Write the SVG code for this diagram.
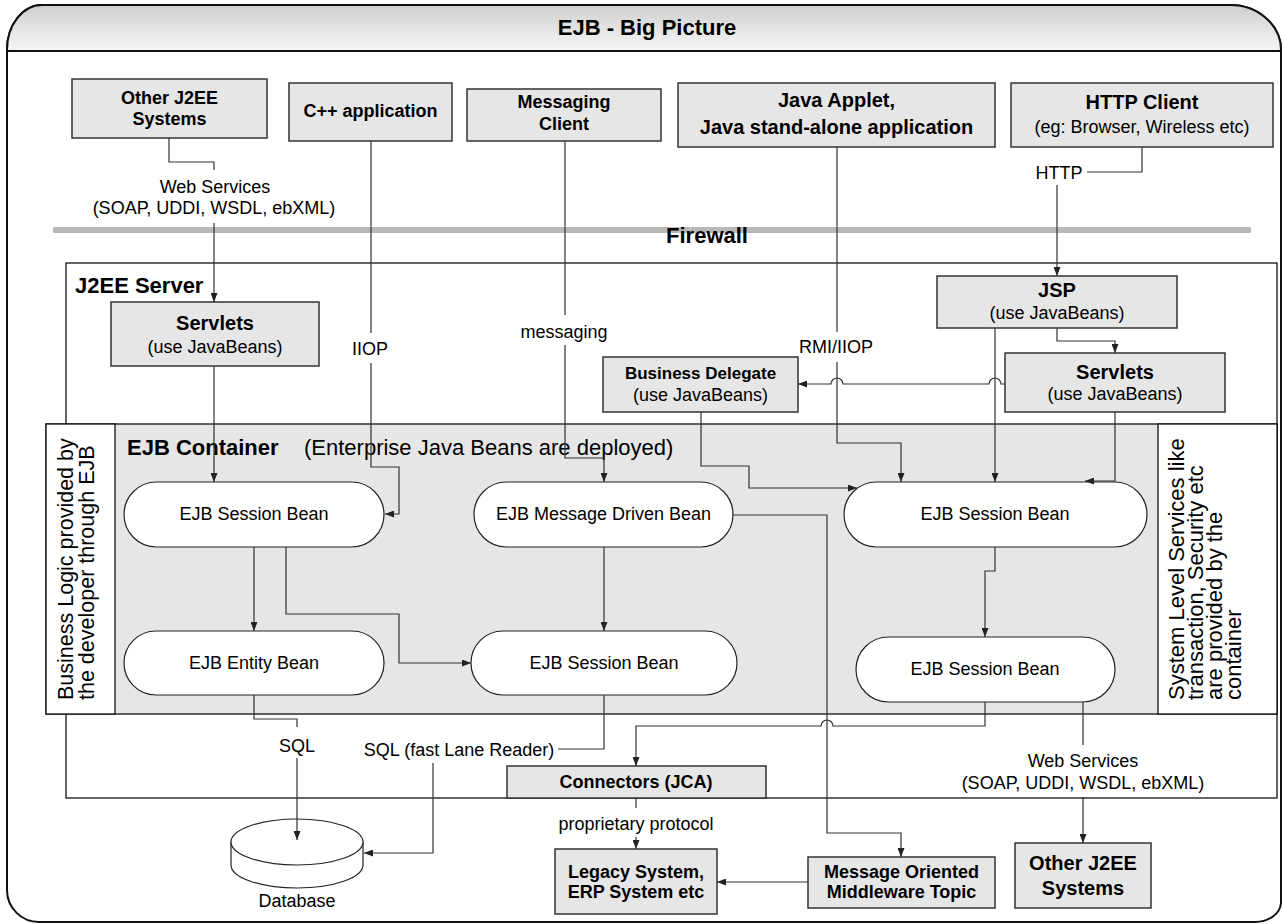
<svg xmlns="http://www.w3.org/2000/svg" width="1283" height="924" viewBox="0 0 1283 924">
<defs>
  <linearGradient id="hdr" x1="0" y1="0" x2="0" y2="1">
    <stop offset="0" stop-color="#cfcfcf"/>
    <stop offset="1" stop-color="#f7f7f7"/>
  </linearGradient>
  <marker id="ah" viewBox="0 0 9 7" refX="9" refY="3.5" markerWidth="9" markerHeight="7" markerUnits="userSpaceOnUse" orient="auto">
    <path d="M0,0 L9,3.5 L0,7 z" fill="#222"/>
  </marker>
  <style>
    .box{fill:#e6e6e6;stroke:#333;stroke-width:1.5}
    .wbox{fill:#fff;stroke:#111;stroke-width:1.3}
    .bean{fill:#fff;stroke:#222;stroke-width:1.2}
    .conn{fill:none;stroke:#333;stroke-width:1.2}
    .arr{marker-end:url(#ah)}
    text{font-family:"Liberation Sans",Arial,sans-serif;fill:#000}
    .b18{font-size:18px;font-weight:bold;text-anchor:middle}
    .b20{font-size:20px;font-weight:bold;text-anchor:middle}
    .b17{font-size:17px;font-weight:bold;text-anchor:middle}
    .r18{font-size:18px;text-anchor:middle}
    .b22{font-size:22px;font-weight:bold}
    .r22{font-size:22px}
  </style>
</defs>

<g id="frame">
  <path d="M7,50 A35,45 0 0 1 42,5 H1230 A51,45 0 0 1 1281,50 V903 A26,20 0 0 1 1255,922 H39 A32,32 0 0 1 7,890 Z" fill="#fff" stroke="#111" stroke-width="2"/>
  <path d="M7,51 V50 A35,45 0 0 1 42,5 H1230 A51,45 0 0 1 1281,50 V51 Z" fill="url(#hdr)" stroke="#111" stroke-width="2"/>
  <text x="647" y="35" class="b22" text-anchor="middle">EJB - Big Picture</text>
</g>

<g id="firewall">
  <rect x="53" y="227" width="1198" height="6" fill="#b8b8b8"/>
  <text x="707" y="243" class="b22" text-anchor="middle">Firewall</text>
</g>

<g id="j2ee-server">
  <rect x="66" y="263" width="1211" height="535" fill="#fff" stroke="#111" stroke-width="1.3"/>
  <text x="75" y="293" class="b22">J2EE Server</text>
</g>

<g id="ejb-container">
  <rect x="46" y="424" width="1231" height="290" fill="#e6e6e6" stroke="#111" stroke-width="1.3"/>
  <text x="127" y="455" class="b22">EJB Container</text>
  <text x="304" y="455" class="r22">(Enterprise Java Beans are deployed)</text>
</g>

<g id="business-logic">
  <rect x="46" y="424" width="69" height="290" class="wbox"/>
  <text transform="translate(73,700) rotate(-90)" style="font-size:21.5px">Business Logic provided by</text>
  <text transform="translate(94,700) rotate(-90)" style="font-size:21.5px">the developer through EJB</text>
</g>

<g id="system-services">
  <rect x="1158" y="424" width="119" height="290" class="wbox"/>
  <text transform="translate(1184,700) rotate(-90)" style="font-size:22px">System Level Services like</text>
  <text transform="translate(1203,700) rotate(-90)" style="font-size:22px">transaction, Security etc</text>
  <text transform="translate(1222,700) rotate(-90)" style="font-size:22px">are provided by the</text>
  <text transform="translate(1241,700) rotate(-90)" style="font-size:22px">container</text>
</g>

<g id="other-j2ee-top">
  <rect x="72" y="79" width="195" height="59" class="box"/>
  <text x="169.5" y="104" class="b18">Other J2EE</text>
  <text x="169.5" y="125" class="b18">Systems</text>
</g>
<g id="cpp-app">
  <rect x="289" y="83" width="163" height="58" class="box"/>
  <text x="370.5" y="117" class="b18">C++ application</text>
</g>
<g id="messaging-client">
  <rect x="467" y="89" width="194" height="52" class="box"/>
  <text x="564" y="108" class="b18">Messaging</text>
  <text x="564" y="130" class="b18">Client</text>
</g>
<g id="java-applet">
  <rect x="678" y="83" width="317" height="64" class="box"/>
  <text x="836.5" y="107" class="b20">Java Applet,</text>
  <text x="836.5" y="134" class="b20">Java stand-alone application</text>
</g>
<g id="http-client">
  <rect x="1011" y="83" width="262" height="64" class="box"/>
  <text x="1142" y="109" class="b20">HTTP Client</text>
  <text x="1142" y="133" class="r18">(eg: Browser, Wireless etc)</text>
</g>

<g id="servlets-left">
  <rect x="111" y="302" width="208" height="64" class="box"/>
  <text x="215" y="330" class="b20">Servlets</text>
  <text x="215" y="353" class="r18">(use JavaBeans)</text>
</g>
<g id="jsp">
  <rect x="937" y="276" width="240" height="52" class="box"/>
  <text x="1057" y="297" class="b20">JSP</text>
  <text x="1057" y="319" class="r18">(use JavaBeans)</text>
</g>
<g id="business-delegate">
  <rect x="603" y="357" width="195" height="55" class="box"/>
  <text x="700.5" y="379" class="b17">Business Delegate</text>
  <text x="700.5" y="401" class="r18">(use JavaBeans)</text>
</g>
<g id="servlets-right">
  <rect x="1005" y="353" width="220" height="59" class="box"/>
  <text x="1115" y="379" class="b20">Servlets</text>
  <text x="1115" y="400" class="r18">(use JavaBeans)</text>
</g>

<g id="session-bean-1">
  <rect x="124" y="482" width="260" height="65" rx="32.5" class="bean"/>
  <text x="254" y="520" class="r18">EJB Session Bean</text>
</g>
<g id="mdb">
  <rect x="474" y="482" width="259" height="65" rx="32.5" class="bean"/>
  <text x="603.5" y="520" class="r18">EJB Message Driven Bean</text>
</g>
<g id="session-bean-right">
  <rect x="844" y="482" width="303" height="65" rx="32.5" class="bean"/>
  <text x="995" y="520" class="r18">EJB Session Bean</text>
</g>
<g id="entity-bean">
  <rect x="124" y="631" width="260" height="64" rx="32" class="bean"/>
  <text x="254" y="669" class="r18">EJB Entity Bean</text>
</g>
<g id="session-bean-mid">
  <rect x="471" y="631" width="266" height="64" rx="32" class="bean"/>
  <text x="604" y="669" class="r18">EJB Session Bean</text>
</g>
<g id="session-bean-right-low">
  <rect x="856" y="637" width="259" height="65" rx="32.5" class="bean"/>
  <text x="985" y="675" class="r18">EJB Session Bean</text>
</g>

<g id="connectors-jca">
  <rect x="507" y="766" width="259" height="32" class="box"/>
  <text x="636" y="788" class="b18">Connectors (JCA)</text>
</g>
<g id="legacy">
  <rect x="555" y="849" width="162" height="65" class="box"/>
  <text x="636" y="878" class="b18">Legacy System,</text>
  <text x="636" y="898" class="b18">ERP System etc</text>
</g>
<g id="mom">
  <rect x="808" y="857" width="187" height="51" class="box"/>
  <text x="901.5" y="878" class="b18">Message Oriented</text>
  <text x="901.5" y="898" class="b18">Middleware Topic</text>
</g>
<g id="other-j2ee-bottom">
  <rect x="1015" y="843" width="136" height="65" class="box"/>
  <text x="1083" y="870" class="b20">Other J2EE</text>
  <text x="1083" y="895" class="b20">Systems</text>
</g>
<g id="database">
  <path d="M231,842 V865 A66,23 0 0 0 363,865 V842" fill="#fff" stroke="#222" stroke-width="1.2"/>
  <ellipse cx="297" cy="842" rx="66" ry="23" fill="#fff" stroke="#222" stroke-width="1.2"/>
  <text x="297" y="907" class="r18">Database</text>
</g>

<g id="connectors">
  <path class="conn" d="M169,138 V162 H214 V170"/>
  <path class="conn arr" d="M214,223 V302"/>
  <path class="conn" d="M371,141 V333"/>
  <path class="conn arr" d="M371,363 V467 H399 V514 H385"/>
  <path class="conn" d="M565,141 V315"/>
  <path class="conn arr" d="M565,345 V458 H604 V482"/>
  <path class="conn" d="M837,147 V332"/>
  <path class="conn arr" d="M837,362 V443 H901 V482"/>
  <path class="conn" d="M1142,147 V172 H1087"/>
  <path class="conn arr" d="M1057,185 V276"/>
  <path class="conn arr" d="M1057,328 V341 H1115 V353"/>
  <path class="conn arr" d="M995,328 V482"/>
  <path class="conn arr" d="M1005,384 H1001 A6,6 0 0 0 989,384 H843 A6,6 0 0 0 831,384 H798"/>
  <path class="conn arr" d="M1115,412 V481 H1085"/>
  <path class="conn arr" d="M701,412 V466 H749 V488 H857"/>
  <path class="conn arr" d="M214,366 V482"/>
  <path class="conn arr" d="M254,547 V631"/>
  <path class="conn arr" d="M286,547 V614 H399 V663 H471"/>
  <path class="conn arr" d="M604,547 V631"/>
  <path class="conn arr" d="M733,515 H827 V833 H901 V857"/>
  <path class="conn arr" d="M995,547 V571 H985 V637"/>
  <path class="conn arr" d="M985,702 V726 H833 A6,6 0 0 0 821,726 H636 V766"/>
  <path class="conn" d="M1083,702 V745"/>
  <path class="conn arr" d="M1083,797 V843"/>
  <path class="conn" d="M254,695 V719 H297 V727"/>
  <path class="conn arr" d="M297,758 V840"/>
  <path class="conn" d="M604,695 V749 H558"/>
  <path class="conn arr" d="M433,763 V853 H364"/>
  <path class="conn" d="M636,798 V808"/>
  <path class="conn arr" d="M636,837 V849"/>
  <path class="conn arr" d="M808,882 H717"/>

  <text x="215" y="193" class="r18">Web Services</text>
  <text x="214" y="214" class="r18">(SOAP, UDDI, WSDL, ebXML)</text>
  <text x="370" y="355" class="r18">IIOP</text>
  <text x="564" y="338" class="r18">messaging</text>
  <text x="836" y="353" class="r18">RMI/IIOP</text>
  <text x="1059" y="179" class="r18">HTTP</text>
  <text x="297" y="752" class="r18">SQL</text>
  <text x="459" y="756" class="r18">SQL (fast Lane Reader)</text>
  <text x="636" y="830" class="r18">proprietary protocol</text>
  <text x="1083" y="767" class="r18">Web Services</text>
  <text x="1083" y="789" class="r18">(SOAP, UDDI, WSDL, ebXML)</text>
</g>
</svg>
